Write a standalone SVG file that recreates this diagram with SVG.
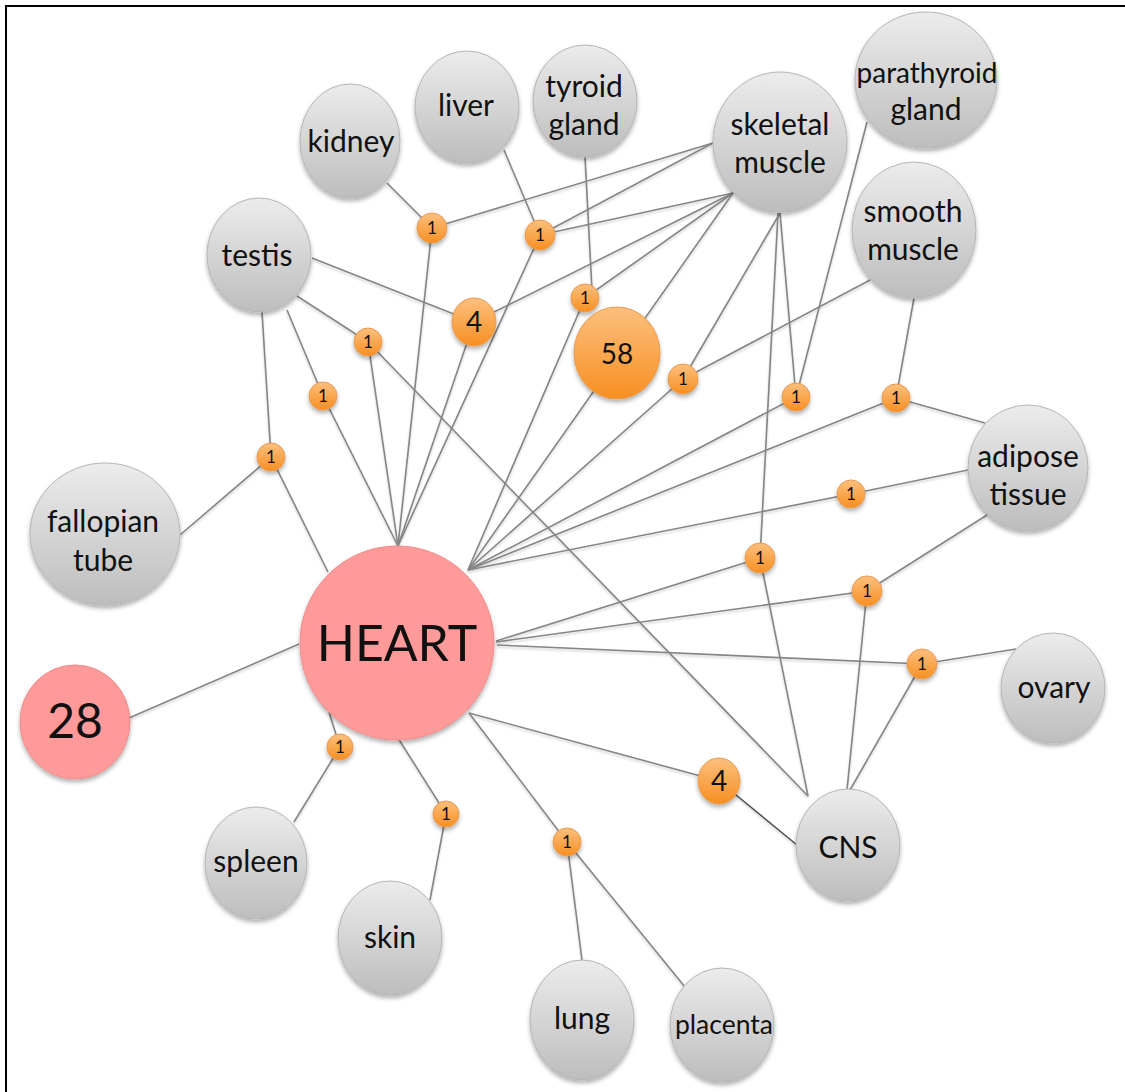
<svg xmlns="http://www.w3.org/2000/svg" width="1125" height="1092" viewBox="0 0 1125 1092">
<defs>
<linearGradient id="gGray" x1="0" y1="0" x2="0" y2="1">
<stop offset="0" stop-color="#ececec"/>
<stop offset="1" stop-color="#bdbdbd"/>
</linearGradient>
<linearGradient id="gOrange" x1="0" y1="0" x2="0" y2="1">
<stop offset="0" stop-color="#fcc07e"/>
<stop offset="1" stop-color="#f78f22"/>
</linearGradient>
<filter id="shadow" x="-20%" y="-20%" width="140%" height="150%">
<feDropShadow dx="0" dy="3" stdDeviation="2.2" flood-color="#000" flood-opacity="0.3"/>
</filter>
<filter id="lshadow" x="-5%" y="-5%" width="110%" height="110%">
<feDropShadow dx="0" dy="2" stdDeviation="1.2" flood-color="#000" flood-opacity="0.18"/>
</filter>
</defs>
<style>
.gray{fill:url(#gGray);stroke:#b5b5b5;stroke-width:1;filter:url(#shadow)}
.pink{fill:#fe9a9a;stroke:#f08a8a;stroke-width:1;filter:url(#shadow)}
.orange{fill:url(#gOrange);stroke:#e89a50;stroke-width:1;filter:url(#shadow)}
text{font-family:Lato,"Liberation Sans",sans-serif;fill:#111;text-anchor:middle}
.lbl{font-size:30px}
.one{font-size:17px}
.big{font-size:28px}
#connectors line{stroke:#858585;stroke-width:1.6}
#connectors line.dark{stroke:#505050}
</style>
<rect x="0" y="0" width="1125" height="1092" fill="#fff"/>
<path d="M6,1092 V6 H1125" fill="none" stroke="#000" stroke-width="2"/>

<g id="connectors" filter="url(#lshadow)">
<line x1="387" y1="183" x2="432" y2="228"/>
<line x1="432" y1="228" x2="713" y2="143"/>
<line x1="432" y1="228" x2="398" y2="546"/>
<line x1="504" y1="150" x2="540" y2="235"/>
<line x1="540" y1="235" x2="713" y2="143"/>
<line x1="540" y1="235" x2="733" y2="193"/>
<line x1="540" y1="235" x2="398" y2="546"/>
<line x1="585" y1="157" x2="592" y2="290"/>
<line x1="585" y1="298" x2="733" y2="193"/>
<line x1="585" y1="298" x2="468" y2="570"/>
<line x1="312" y1="258" x2="474" y2="322"/>
<line x1="474" y1="322" x2="733" y2="193"/>
<line x1="474" y1="322" x2="398" y2="546"/>
<line x1="733" y1="193" x2="468" y2="570"/>
<line x1="297" y1="296" x2="368" y2="342"/>
<line x1="368" y1="342" x2="808" y2="796"/>
<line x1="368" y1="342" x2="398" y2="546"/>
<line x1="287" y1="310" x2="323" y2="396"/>
<line x1="323" y1="396" x2="398" y2="546"/>
<line x1="262" y1="312" x2="271" y2="457"/>
<line x1="271" y1="457" x2="180" y2="535"/>
<line x1="271" y1="457" x2="328" y2="572"/>
<line x1="870" y1="280" x2="683" y2="379"/>
<line x1="780" y1="213" x2="683" y2="379"/>
<line x1="683" y1="379" x2="468" y2="570"/>
<line x1="780" y1="213" x2="796" y2="397"/>
<line x1="867" y1="122" x2="796" y2="397"/>
<line x1="796" y1="397" x2="468" y2="570"/>
<line x1="914" y1="298" x2="896" y2="398"/>
<line x1="985" y1="423" x2="896" y2="398"/>
<line x1="896" y1="398" x2="468" y2="570"/>
<line x1="968" y1="470" x2="851" y2="494"/>
<line x1="851" y1="494" x2="468" y2="570"/>
<line x1="778" y1="213" x2="760" y2="558"/>
<line x1="760" y1="558" x2="808" y2="796"/>
<line x1="760" y1="558" x2="496" y2="641"/>
<line x1="987" y1="515" x2="867" y2="591"/>
<line x1="847" y1="790" x2="867" y2="591"/>
<line x1="867" y1="591" x2="496" y2="642"/>
<line x1="1016" y1="649" x2="922" y2="664"/>
<line x1="850" y1="790" x2="922" y2="664"/>
<line x1="922" y1="664" x2="497" y2="645"/>
<line x1="469" y1="713" x2="719" y2="781"/>
<line class="dark" x1="719" y1="781" x2="797" y2="845"/>
<line x1="299" y1="644" x2="129" y2="718"/>
<line x1="329" y1="712" x2="340" y2="747"/>
<line x1="340" y1="747" x2="294" y2="822"/>
<line x1="398" y1="738" x2="446" y2="814"/>
<line x1="446" y1="814" x2="430" y2="900"/>
<line x1="469" y1="713" x2="567" y2="842"/>
<line x1="567" y1="842" x2="582" y2="960"/>
<line x1="567" y1="842" x2="685" y2="987"/>
</g>

<g id="heart"><circle class="pink" cx="397" cy="643" r="97"/><text x="397" y="661" style="font-size:50px">HEART</text></g>
<g id="n28"><ellipse class="pink" cx="75" cy="722" rx="55" ry="57"/><text x="75" y="738" style="font-size:48px">28</text></g>

<g id="kidney"><ellipse class="gray" cx="350" cy="141" rx="50" ry="57"/><text class="lbl" x="351" y="152">kidney</text></g>
<g id="liver"><ellipse class="gray" cx="467" cy="107" rx="52" ry="56"/><text class="lbl" x="466" y="116">liver</text></g>
<g id="tyroid"><ellipse class="gray" cx="585" cy="101" rx="52" ry="56"/><text class="lbl" x="584" y="97">tyroid</text><text class="lbl" x="584" y="135">gland</text></g>
<g id="skeletal"><ellipse class="gray" cx="780" cy="142" rx="67" ry="70"/><text class="lbl" x="780" y="135">skeletal</text><text class="lbl" x="780" y="173">muscle</text></g>
<g id="parathyroid"><ellipse class="gray" cx="926" cy="80" rx="71" ry="68"/><text class="lbl" x="927" y="83" style="font-size:28px">parathyroid</text><text class="lbl" x="926" y="120">gland</text></g>
<g id="smooth"><ellipse class="gray" cx="914" cy="230" rx="62" ry="68"/><text class="lbl" x="913" y="222">smooth</text><text class="lbl" x="913" y="260">muscle</text></g>
<g id="testis"><ellipse class="gray" cx="259" cy="255" rx="52" ry="57"/><text class="lbl" x="257" y="266">testis</text></g>
<g id="fallopian"><ellipse class="gray" cx="105" cy="534" rx="75" ry="71"/><text class="lbl" x="103" y="532">fallopian</text><text class="lbl" x="103" y="571">tube</text></g>
<g id="adipose"><ellipse class="gray" cx="1028" cy="468" rx="60" ry="63"/><text class="lbl" x="1028" y="467">adipose</text><text class="lbl" x="1028" y="505">tissue</text></g>
<g id="ovary"><ellipse class="gray" cx="1053" cy="688" rx="52" ry="55"/><text class="lbl" x="1054" y="698">ovary</text></g>
<g id="cns"><ellipse class="gray" cx="848" cy="845" rx="52" ry="56"/><text class="lbl" x="848" y="858">CNS</text></g>
<g id="spleen"><ellipse class="gray" cx="256" cy="863" rx="51" ry="56"/><text class="lbl" x="256" y="872">spleen</text></g>
<g id="skin"><ellipse class="gray" cx="390" cy="938" rx="52" ry="57"/><text class="lbl" x="390" y="948">skin</text></g>
<g id="lung"><ellipse class="gray" cx="582" cy="1020" rx="52" ry="60"/><text class="lbl" x="582" y="1029">lung</text></g>
<g id="placenta"><ellipse class="gray" cx="722" cy="1025" rx="52" ry="57"/><text class="lbl" x="724" y="1034" style="font-size:26.5px">placenta</text></g>

<g id="o-k1"><circle class="orange" cx="432" cy="228" r="15"/><text class="one" x="432" y="234">1</text></g>
<g id="o-l1"><circle class="orange" cx="540" cy="235" r="15"/><text class="one" x="540" y="241">1</text></g>
<g id="o-t1"><circle class="orange" cx="585" cy="298" r="14"/><text class="one" x="585" y="304">1</text></g>
<g id="o-4a"><ellipse class="orange" cx="474" cy="322" rx="22" ry="24"/><text class="big" x="474" y="332">4</text></g>
<g id="o-58"><ellipse class="orange" cx="617" cy="353" rx="43" ry="46"/><text class="big" x="617" y="364">58</text></g>
<g id="o-s1"><circle class="orange" cx="368" cy="342" r="14"/><text class="one" x="368" y="348">1</text></g>
<g id="o-s2"><circle class="orange" cx="323" cy="396" r="14"/><text class="one" x="323" y="402">1</text></g>
<g id="o-f1"><circle class="orange" cx="271" cy="457" r="14"/><text class="one" x="271" y="463">1</text></g>
<g id="o-m1"><circle class="orange" cx="683" cy="379" r="15"/><text class="one" x="683" y="385">1</text></g>
<g id="o-p1"><circle class="orange" cx="796" cy="397" r="14"/><text class="one" x="796" y="403">1</text></g>
<g id="o-a1"><circle class="orange" cx="896" cy="398" r="14"/><text class="one" x="896" y="404">1</text></g>
<g id="o-a2"><circle class="orange" cx="851" cy="494" r="14"/><text class="one" x="851" y="500">1</text></g>
<g id="o-c1"><circle class="orange" cx="760" cy="558" r="15"/><text class="one" x="760" y="564">1</text></g>
<g id="o-c2"><circle class="orange" cx="867" cy="591" r="15"/><text class="one" x="867" y="597">1</text></g>
<g id="o-c3"><circle class="orange" cx="922" cy="664" r="15"/><text class="one" x="922" y="670">1</text></g>
<g id="o-4b"><ellipse class="orange" cx="719" cy="781" rx="21" ry="23"/><text class="big" x="719" y="791">4</text></g>
<g id="o-sp1"><circle class="orange" cx="340" cy="747" r="13"/><text class="one" x="340" y="753">1</text></g>
<g id="o-sk1"><circle class="orange" cx="446" cy="814" r="13"/><text class="one" x="446" y="820">1</text></g>
<g id="o-lu1"><circle class="orange" cx="567" cy="842" r="14"/><text class="one" x="567" y="848">1</text></g>
</svg>
